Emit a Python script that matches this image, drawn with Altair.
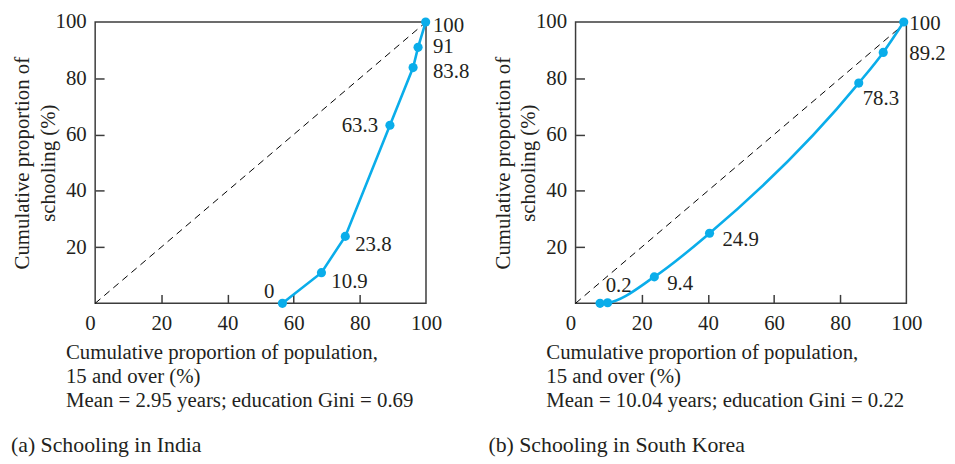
import altair as alt
import pandas as pd

# ---- data ----
ind_x = [56.6, 68.4, 75.6, 89.1, 96.1, 97.6, 99.9]
ind_y = [0, 10.9, 23.8, 63.3, 83.8, 91, 100]
ind_labels = ["0", "10.9", "23.8", "63.3", "83.8", "91", "100"]

kor_x = [7.4, 9.7, 23.8, 40.5, 85.6, 93.0, 99.2]
kor_y = [0, 0.2, 9.4, 24.9, 78.3, 89.2, 100]
kor_labels = ["", "0.2", "9.4", "24.9", "78.3", "89.2", "100"]

equality_x = [0, 100]
equality_y = [0, 100]
tick_values = [0, 20, 40, 60, 80, 100]
inner_ticks = [20, 40, 60, 80]

x_title = ["Cumulative proportion of population,", "15 and over (%)"]
y_title = ["Cumulative proportion of", "schooling (%)"]
ind_stat = "Mean = 2.95 years; education Gini = 0.69"
kor_stat = "Mean = 10.04 years; education Gini = 0.22"
ind_caption = "(a) Schooling in India"
kor_caption = "(b) Schooling in South Korea"

BLUE = "#0AADEA"
INK = "#231F20"
FRAME = "#3C3C3C"
FONT = "Liberation Serif"
W = 334
H = 284
FS = 21        # axis labels / titles
FS_LAB = 21    # point labels
FS_CAP = 22    # panel captions

scale = alt.Scale(domain=[0, 100], nice=False, zero=False)


def panel(xs, ys, labels, stat, caption, groups, interp, cap_dx):
    df = pd.DataFrame({"x": xs, "y": ys, "label": labels})
    diag = pd.DataFrame({"x": equality_x, "y": equality_y})

    main_x = alt.X("x:Q", scale=scale, axis=alt.Axis(
        orient="bottom", values=tick_values, ticks=False, domain=False, grid=False,
        labelFontSize=FS, labelPadding=9,
        labelAlign={"condition": {"test": "datum.value === 0", "value": "right"}, "value": "center"},
        title=x_title + [stat], titleAnchor="start", titleAlign="left", titleBaseline="top",
        titleX=-30, titleY=39, titleLineHeight=24, titleFontSize=FS))
    main_y = alt.Y("y:Q", scale=scale, axis=alt.Axis(
        orient="left", values=tick_values[1:], ticks=False, domain=False, grid=False,
        labelFontSize=FS, labelPadding=9,
        title=y_title, titleX=-63, titleY=H / 2, titleAngle=270, titleAlign="center",
        titleBaseline="bottom", titleLineHeight=26, titleFontSize=FS))

    tick_x = alt.X("x:Q", scale=scale, axis=alt.Axis(
        orient="top", offset=-H, values=inner_ticks, ticks=True, tickSize=9,
        labels=False, domain=False, grid=False, title=None))
    tick_y = alt.Y("y:Q", scale=scale, axis=alt.Axis(
        orient="right", offset=-W, values=inner_ticks, ticks=True, tickSize=9,
        labels=False, domain=False, grid=False, title=None))

    diag_layer = alt.Chart(diag).mark_line(
        color="black", strokeWidth=1, strokeDash=[7, 5]).encode(x=tick_x, y=tick_y)

    base = alt.Chart(df)
    line = base.mark_line(color=BLUE, strokeWidth=2.6, interpolate=interp).encode(
        x=main_x, y=main_y)
    pts = base.mark_circle(color=BLUE, size=85, opacity=1).encode(
        x=alt.X("x:Q", scale=scale, axis=None), y=alt.Y("y:Q", scale=scale, axis=None))

    layers = [diag_layer, line, pts]
    for which, align, dx, dy, at_frame in groups:
        xenc = (alt.XDatum(100, scale=scale, axis=None) if at_frame
                else alt.X("x:Q", scale=scale, axis=None))
        layers.append(
            base.transform_filter(alt.FieldOneOfPredicate(field="label", oneOf=which))
            .mark_text(align=align, baseline="middle", dx=dx, dy=dy,
                       font=FONT, fontSize=FS_LAB, color=INK)
            .encode(x=xenc, y=alt.Y("y:Q", scale=scale, axis=None), text="label:N"))

    return alt.layer(*layers).resolve_axis(x="independent", y="independent").properties(
        width=W, height=H,
        title=alt.TitleParams(caption, orient="bottom", anchor="start", frame="group",
                              dx=cap_dx, offset=25, fontSize=FS_CAP, font=FONT,
                              fontWeight="normal", color=INK))


india = panel(ind_x, ind_y, ind_labels, ind_stat, ind_caption, [
    (["10.9", "23.8"], "left", 10, 9, False),
    (["63.3"], "right", -12, 1, False),
    (["0"], "right", -8, -11, False),
    (["100"], "left", 7, 4, True),
    (["91"], "left", 7, 0, True),
    (["83.8"], "left", 7, 4, True),
], "linear", -85)

korea = panel(kor_x, kor_y, kor_labels, kor_stat, kor_caption, [
    (["9.4", "24.9"], "left", 13, 7, False),
    (["78.3"], "left", 4, 16, False),
    (["0.2"], "left", -2, -17, False),
    (["89.2", "100"], "left", 3, 2, True),
], "monotone", -88)

chart = alt.hconcat(india, korea, spacing=17).properties(
    padding={"left": 2, "top": 0, "right": 0, "bottom": 0}
).configure_view(
    stroke=FRAME, strokeWidth=1.5
).configure_axis(
    labelFont=FONT, titleFont=FONT, labelColor=INK, titleColor=INK,
    titleFontWeight="normal", tickColor=FRAME, tickWidth=1.5
).configure_title(font=FONT)

chart.save("out.html", embed_options={"renderer": "svg", "actions": False})
